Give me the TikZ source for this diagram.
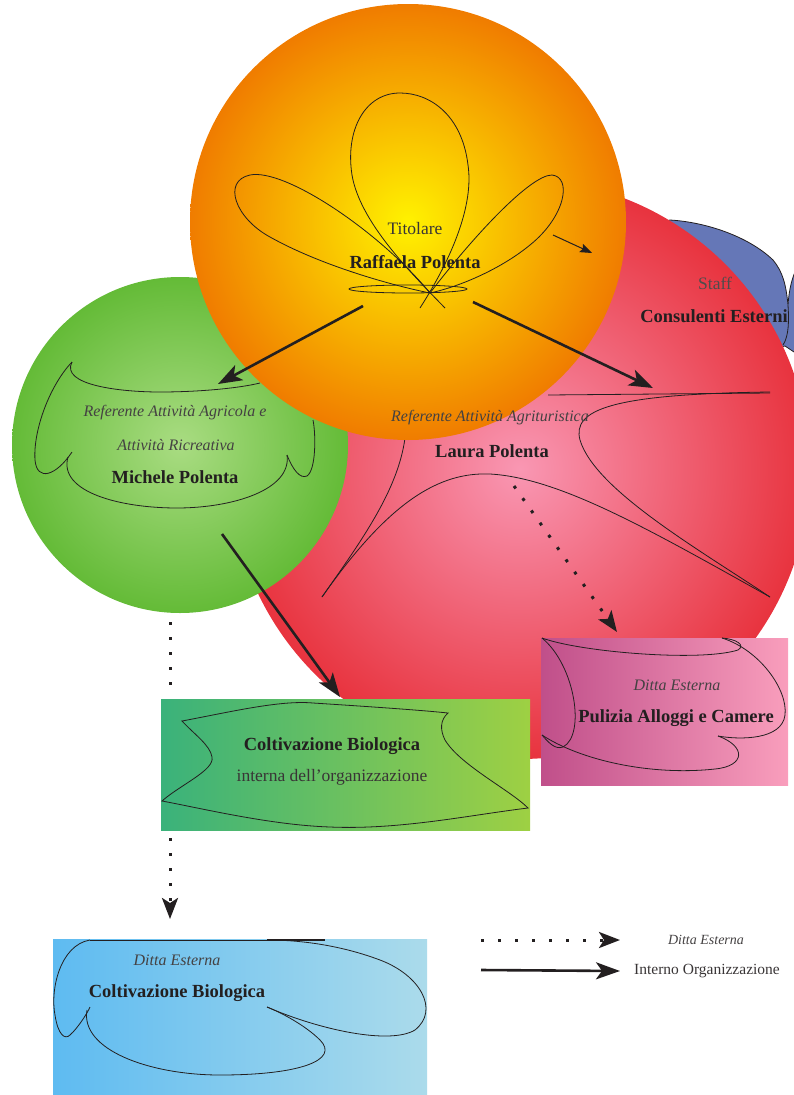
\documentclass[tikz,border=0pt]{standalone}
\usepackage{fontspec}
\setmainfont{Liberation Serif}
\usetikzlibrary{arrows.meta}
\definecolor{ink}{HTML}{231F20}
\definecolor{redin}{HTML}{F997B3}
\definecolor{redout}{HTML}{E8333E}
\definecolor{orin}{HTML}{FFF200}
\definecolor{orout}{HTML}{F07C00}
\definecolor{grin}{HTML}{A9DC82}
\definecolor{grout}{HTML}{64BB37}
\definecolor{staffblue}{HTML}{6577B7}
\definecolor{pinkL}{HTML}{C04F8A}
\definecolor{pinkR}{HTML}{F99EBC}
\definecolor{gboxL}{HTML}{3AB27B}
\definecolor{gboxR}{HTML}{9ED043}
\definecolor{bboxL}{HTML}{5EBBF1}
\definecolor{bboxR}{HTML}{ABDBEB}
\begin{document}
\begin{tikzpicture}[x=1pt,y=-1pt,
  deco/.style={draw=ink, line width=0.8pt},
  thickarrow/.style={draw=ink, line width=2.6pt, -{Stealth[length=24pt,width=17pt,inset=6pt]}},
  thinarrow/.style={draw=ink, line width=1pt, -{Stealth[length=12pt,width=9pt,inset=2pt]}},
  dotline/.style={draw=ink, line width=3pt, dash pattern=on 3pt off 12pt},
  dotarrow/.style={dotline, -{Stealth[length=21pt,width=16pt,inset=5pt]}},
  pname/.style={font=\fontsize{18.5}{20}\selectfont\bfseries, text=ink, inner sep=0pt},
  prole/.style={font=\fontsize{16}{18}\selectfont\itshape, text=ink!85, inner sep=0pt},
  pplain/.style={font=\fontsize{17.5}{20}\selectfont, text=ink!90, inner sep=0pt},
  ball/.style={circle, inner sep=0pt, shade},
]
\useasboundingbox (0,0) rectangle (794,1095);
\clip (0,0) rectangle (794,1095);

% staff blob (behind red circle)
\path[fill=staffblue, draw=ink, line width=0.8pt]
  (600,240) -- (670,220) .. controls (705,222) and (748,236) .. (773,260)
  .. controls (783,272) and (786,285) .. (788,305)
  .. controls (789,290) and (792,275) .. (800,262) -- (800,356) -- (785,346)
  .. controls (760,352) and (680,350) .. (620,330) -- cycle;
\draw[deco] (788,305) .. controls (789,320) and (789,336) .. (783,345);

% red circle
\node[ball, minimum size=580pt, inner color=redin, outer color=redout] (redball) at (520,469) {};
\draw[deco] (548,395) -- (770,393);
\draw[deco] (770,392) .. controls (610,394) and (572,410) .. (580,440)
  .. controls (595,490) and (700,550) .. (770,597);
\draw[deco] (322,597) .. controls (390,500) and (440,472) .. (490,474)
  .. controls (560,478) and (650,530) .. (770,597);
\draw[deco] (322,597) .. controls (362,540) and (398,490) .. (405,438);

% green circle
\node[ball, minimum size=336pt, inner color=grin, outer color=grout] (greenball) at (180,445) {};
\draw[deco] (72,362) .. controls (60,385) and (120,392) .. (160,392) .. controls (200,392) and (240,388) .. (260,383);
\draw[deco] (72,362) .. controls (50,385) and (33,430) .. (35,460) .. controls (37,482) and (56,476) .. (72,452);
\draw[deco] (68,457) .. controls (58,492) and (120,508) .. (177,508) .. controls (232,508) and (292,490) .. (287,455);
\draw[deco] (287,455) .. controls (293,470) and (300,479) .. (307,476) .. controls (316,470) and (316,435) .. (313,420);

% orange circle
\node[ball, minimum size=436pt, inner color=orin, outer color=orout] (orangeball) at (408,222) {};
\draw[deco] (420,308) .. controls (452,258) and (474,205) .. (468,165)
  .. controls (462,115) and (430,93) .. (400,93)
  .. controls (365,93) and (345,130) .. (352,175)
  .. controls (360,222) and (410,272) .. (445,308);
\draw[deco] (430,293) .. controls (380,232) and (285,168) .. (250,175)
  .. controls (222,181) and (235,218) .. (270,237)
  .. controls (320,265) and (390,285) .. (430,293);
\draw[deco] (430,293) .. controls (472,238) and (530,175) .. (552,175)
  .. controls (572,177) and (566,216) .. (530,245)
  .. controls (502,268) and (462,286) .. (430,293);
\draw[deco] (408,289) ellipse[x radius=59pt, y radius=4pt];

\coordinate (smallA) at (553,235);
\coordinate (smallB) at (592,253);
\draw[thinarrow] (smallA) -- (smallB);

% pink box
\shade[left color=pinkL, right color=pinkR] (541,638) rectangle (788,785);
\coordinate (pinkbox) at (541,638);
\draw[deco] (542,638) .. controls (580,652) and (700,662) .. (738,650) .. controls (746,645) and (736,639) .. (722,638);
\draw[deco] (722,638) .. controls (760,650) and (788,690) .. (785,715) .. controls (782,740) and (740,740) .. (718,736);
\draw[deco] (718,736) .. controls (746,746) and (746,766) .. (715,769) .. controls (650,776) and (580,760) .. (542,735);
\draw[deco] (542,638) .. controls (575,665) and (586,735) .. (563,747) .. controls (555,750) and (548,742) .. (542,735);

% green box
\shade[left color=gboxL, right color=gboxR] (161,699) rectangle (530,830);
\coordinate (greenboxtop) at (170,699);
\coordinate (greenboxbot) at (170,830);
\draw[deco] (182,721) .. controls (230,712) and (280,700) .. (313,703) .. controls (360,706) and (420,710) .. (448,713)
  .. controls (440,720) and (440,730) .. (445,740) .. controls (460,765) and (510,790) .. (528,808)
  .. controls (470,815) and (400,830) .. (330,827) .. controls (270,825) and (200,808) .. (162,801)
  .. controls (180,785) and (215,770) .. (212,757) .. controls (210,745) and (195,735) .. (182,721) -- cycle;

% blue box
\shade[left color=bboxL, right color=bboxR] (53,939) rectangle (427,1095);
\coordinate (blueboxtop) at (170,939);
\draw[deco] (90,940) -- (325,940);
\draw[draw=ink, line width=1.4pt] (267,940) -- (325,940);
\draw[deco] (90,940) .. controls (60,945) and (50,990) .. (55,1015) .. controls (58,1035) and (65,1040) .. (70,1035) .. controls (78,1028) and (88,1012) .. (90,1007);
\draw[deco] (87,1010) .. controls (80,1050) and (150,1075) .. (220,1075) .. controls (300,1075) and (340,1060) .. (320,1040) .. controls (305,1025) and (280,1012) .. (267,1007);
\draw[deco] (267,1007) .. controls (320,1030) and (390,1045) .. (415,1030) .. controls (440,1010) and (420,975) .. (380,960) .. controls (340,945) and (300,940) .. (267,940);

% arrows
\coordinate (oA) at (363,306);
\coordinate (gA) at (218,384);
\coordinate (oB) at (473,302);
\coordinate (rB) at (653,388);
\coordinate (gC) at (222,534);
\coordinate (bC) at (340,697);
\coordinate (lD) at (514,486);
\coordinate (pD) at (617,632);
\coordinate (gE) at (170,622);
\coordinate (gF) at (170,692);
\coordinate (bE) at (170,838);
\coordinate (bF) at (170,919);
\draw[thickarrow] (oA) -- (gA);
\draw[thickarrow] (oB) -- (rB);
\draw[thickarrow] (gC) -- (bC);
\draw[dotarrow] (lD) -- (pD);
\draw[dotline] (gE) -- (gF);
\draw[dotarrow] (bE) -- (bF);

% texts
\node[pplain] (titolare) at (415,229) {Titolare};
\node[pname] (raffaela) at (415,262) {Raffaela Polenta};
\node[pplain, text=ink!80] (staff) at (715,283) {Staff};
\node[pname] (consulenti) at (714,316) {Consulenti Esterni};
\node[prole] (refagr1) at (175,413) {Referente Attività Agricola e};
\node[prole] (refagr2) at (176,445) {Attività Ricreativa};
\node[pname] (michele) at (175,477) {Michele Polenta};
\node[prole] (refagt) at (490,418) {Referente Attività Agrituristica};
\node[pname] (laura) at (492,451) {Laura Polenta};
\node[pname] (coltint) at (332,746) {Coltivazione Biologica};
\node[pplain] (interna) at (332,777) {interna dell’organizzazione};
\node[prole] (dittap) at (677,685) {Ditta Esterna};
\node[pname] (pulizia) at (676,718) {Pulizia Alloggi e Camere};
\node[prole] (dittab) at (177,960) {Ditta Esterna};
\node[pname] (coltest) at (177,993) {Coltivazione Biologica};

% legend
\coordinate (l1a) at (481,940);
\coordinate (l1b) at (620,940);
\coordinate (l2a) at (481,970);
\coordinate (l2b) at (620,971);
\draw[dotline, dash pattern=on 3pt off 14pt, -{Stealth[length=21pt,width=16pt,inset=5pt]}] (l1a) -- (l1b);
\draw[thickarrow] (l2a) -- (l2b);
\node[font=\fontsize{14}{16}\selectfont\itshape, text=ink!85, inner sep=0pt] (legext) at (706,940) {Ditta Esterna};
\node[font=\fontsize{15.5}{17}\selectfont, text=ink!90, inner sep=0pt] (legint) at (707,971) {Interno Organizzazione};
\end{tikzpicture}
\end{document}
